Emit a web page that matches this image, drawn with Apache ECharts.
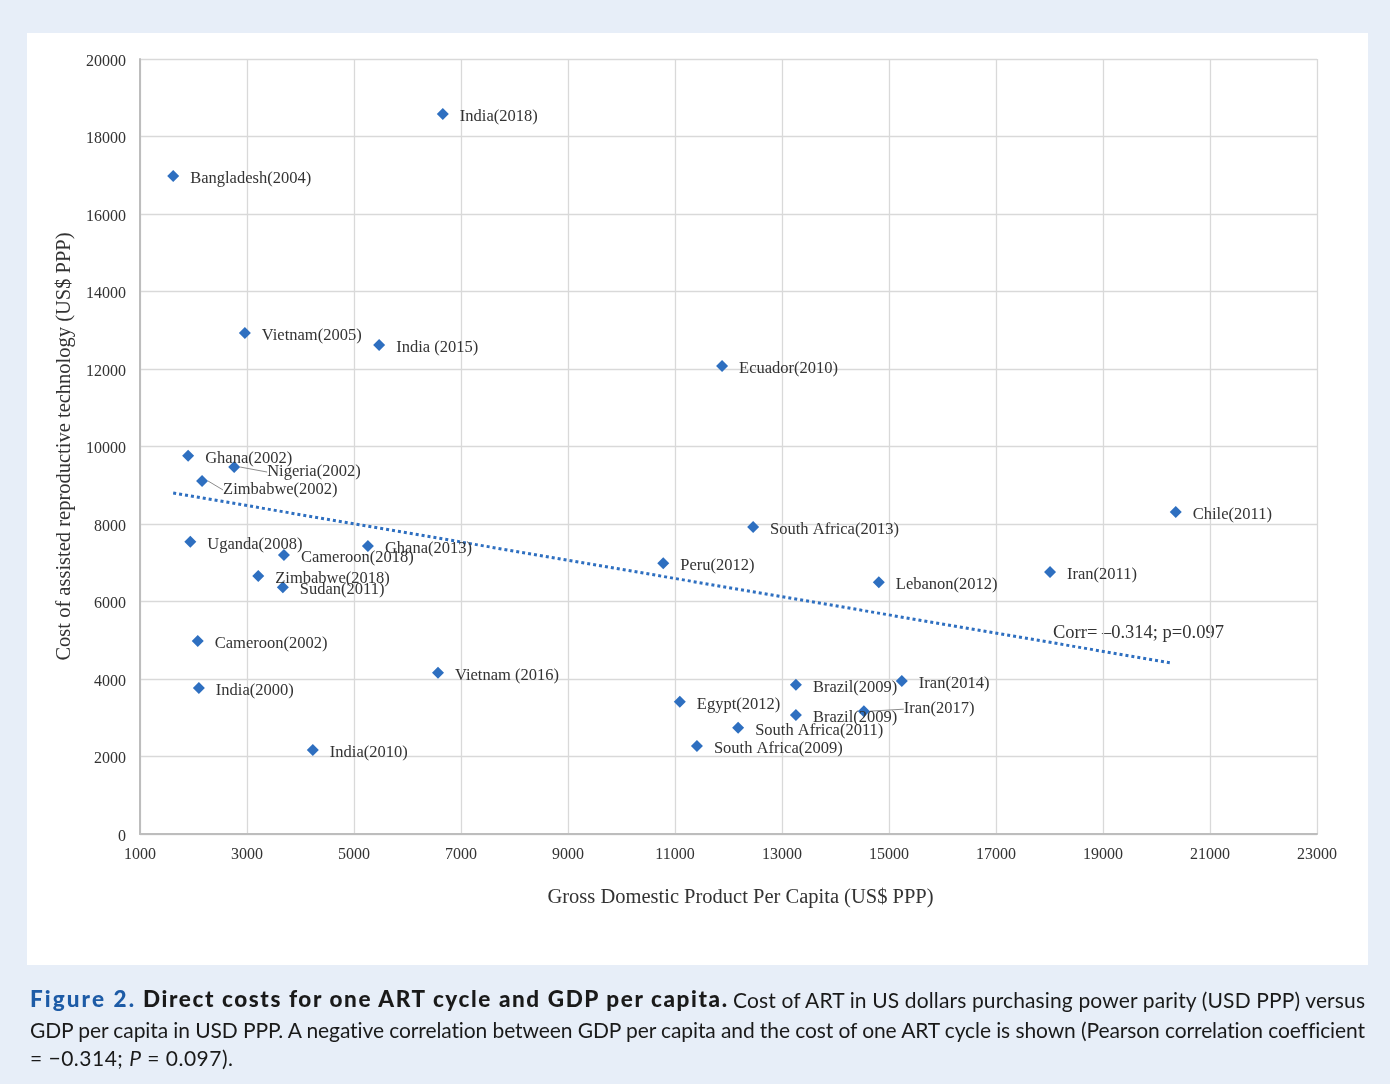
<!DOCTYPE html>
<html>
<head>
<meta charset="utf-8">
<script src="https://cdn.jsdelivr.net/npm/echarts@6/dist/echarts.min.js"></script>
<style>
  html, body { margin: 0; padding: 0; }
  body { width: 1390px; height: 1084px; background: #e7eef8; position: relative; overflow: hidden; }
  #panel { position: absolute; left: 27px; top: 33px; width: 1341px; height: 932px; background: #fff; }
  #chart { position: absolute; left: 0; top: 0; width: 1390px; height: 1084px; }
  .cap { position: absolute; white-space: nowrap; font-family: Lato, "Open Sans", sans-serif;
         font-size: 21px; line-height: 29px; color: #1a1a1a; }
  .cap.fig { color: #1d5ba6; font-weight: 900; font-size: 22.5px; line-height: 28px; }
  .cap.bold { font-weight: 900; font-size: 22.5px; line-height: 28px; }
</style>
</head>
<body>
<div id="panel"></div>
<div id="chart"></div>
<div id="caption"></div>
<script>
var countries = ['India(2018)', 'Bangladesh(2004)', 'Vietnam(2005)', 'India (2015)', 'Ecuador(2010)',
  'Ghana(2002)', 'Nigeria(2002)', 'Zimbabwe(2002)', 'Uganda(2008)', 'Cameroon(2018)', 'Ghana(2013)',
  'Zimbabwe(2018)', 'Sudan(2011)', 'Cameroon(2002)', 'India(2000)', 'India(2010)', 'Vietnam (2016)',
  'Peru(2012)', 'South Africa(2013)', 'Lebanon(2012)', 'Iran(2011)', 'Chile(2011)', 'Egypt(2012)',
  'Brazil(2009)', 'Iran(2014)', 'Brazil(2009)', 'Iran(2017)', 'South Africa(2011)', 'South Africa(2009)'];
var gdp = [6660, 1620, 2960, 5470, 11880, 1900, 2760, 2160, 1940, 3690, 5260, 3210, 3670, 2080, 2100,
  4230, 6570, 10780, 12460, 14810, 18010, 20360, 11090, 13260, 15240, 13260, 14530, 12180, 11410];
var cost = [18580, 16980, 12930, 12620, 12080, 9760, 9470, 9110, 7540, 7200, 7430, 6660, 6370, 4980, 3770,
  2170, 4160, 6990, 7920, 6500, 6760, 8310, 3410, 3850, 3950, 3070, 3170, 2740, 2270];

// trend line end points
var trendGdp = [1620, 20290];
var trendCost = [8800, 4410];

// labels pushed away from their marker (with a leader line)
var movedLabels = { 'Nigeria(2002)': [16, 5], 'Zimbabwe(2002)': [4, 9], 'Iran(2017)': [23, -2] };

// x axis runs 1000..23000 by 2000, so it is drawn shifted by 1000
var X_OFFSET = 1000;

var serif = '"Liberation Serif", "Times New Roman", serif';
var blue = '#2e6fc0';
var ink = '#333333';

var points = gdp.map(function (g, i) {
  var item = { value: [g - X_OFFSET, cost[i]], name: countries[i] };
  if (movedLabels[countries[i]]) {
    item.labelLine = { show: true, lineStyle: { color: '#8c8c8c', width: 1 } };
  }
  return item;
});
var trend = trendGdp.map(function (g, i) { return [g - X_OFFSET, trendCost[i]]; });

var myChart = echarts.init(document.getElementById('chart'));

var option = {
  animation: false,
  grid: { left: 140, right: 73, top: 59, bottom: 250 },
  xAxis: {
    type: 'value',
    min: 0,
    max: 22000,
    interval: 2000,
    name: 'Gross Domestic Product Per Capita (US$ PPP)',
    nameLocation: 'middle',
    nameGap: 53,
    nameTextStyle: { fontFamily: serif, fontSize: 20.5, color: ink, padding: [0, 0, 0, 24] },
    axisLine: { lineStyle: { color: '#bdbdbd', width: 2 } },
    axisTick: { show: false },
    axisLabel: {
      fontFamily: serif, fontSize: 16, color: ink, margin: 13,
      formatter: function (v) { return String(v + X_OFFSET); }
    },
    splitLine: { lineStyle: { color: '#d9d9d9', width: 1.3 } }
  },
  yAxis: {
    type: 'value',
    min: 0,
    max: 20000,
    interval: 2000,
    name: 'Cost of assisted reproductive technology (US$ PPP)',
    nameLocation: 'middle',
    nameGap: 62,
    nameTextStyle: { fontFamily: serif, fontSize: 20.5, color: ink },
    axisLine: { show: true, lineStyle: { color: '#bdbdbd', width: 2 } },
    axisTick: { show: false },
    axisLabel: {
      margin: 14,
      formatter: function (v) { return '{t|' + v + '}'; },
      rich: { t: { fontFamily: serif, fontSize: 16, color: ink, padding: [5, 0, 0, 0] } }
    },
    splitLine: { lineStyle: { color: '#d9d9d9', width: 1.3 } }
  },
  graphic: [{
    type: 'text',
    left: 1053,
    top: 624,
    style: { text: 'Corr= \u20130.314; p=0.097', font: '18.5px ' + serif, fill: ink }
  }],
  series: [
    {
      type: 'line',
      data: trend,
      symbol: 'none',
      silent: true,
      lineStyle: { color: blue, width: 3, type: 'dotted' },
      z: 1
    },
    {
      type: 'scatter',
      data: points,
      symbol: 'diamond',
      symbolSize: 12,
      itemStyle: { color: blue, opacity: 1 },
      label: {
        show: true,
        position: 'right',
        distance: 11,
        formatter: '{b}',
        fontFamily: serif,
        fontSize: 16.5,
        color: ink
      },
      labelLayout: function (p) {
        var m = movedLabels[countries[p.dataIndex]];
        return m ? { dx: m[0], dy: m[1] } : { dy: 3 };
      },
      z: 3
    }
  ]
};

option && myChart.setOption(option);

// caption: each piece is stretched to the width it has in the printed figure
var captionParts = [
  { text: 'Figure 2.', cls: 'fig', left: 30, top: 985, width: 104 },
  { text: 'Direct costs for one ART cycle and GDP per capita.', cls: 'bold', left: 143, top: 985, width: 584 },
  { text: 'Cost of ART in US dollars purchasing power parity (USD PPP) versus', cls: '', left: 733, top: 985, width: 632 },
  { text: 'GDP per capita in USD PPP. A negative correlation between GDP per capita and the cost of one ART cycle is shown (Pearson correlation coefficient', cls: '', left: 30, top: 1015, width: 1335 },
  { html: '= \u22120.314; <i>P</i> = 0.097).', cls: '', left: 30, top: 1043, width: 203 }
];
var cap = document.getElementById('caption');
captionParts.forEach(function (p) {
  var s = document.createElement('span');
  s.className = 'cap ' + p.cls;
  if (p.html) { s.innerHTML = p.html; } else { s.textContent = p.text; }
  s.style.left = p.left + 'px';
  s.style.top = p.top + 'px';
  cap.appendChild(s);
  var n = s.textContent.length;
  var w = s.getBoundingClientRect().width;
  s.style.letterSpacing = ((p.width - w) / (n - 1)) + 'px';
});
</script>
</body>
</html>
